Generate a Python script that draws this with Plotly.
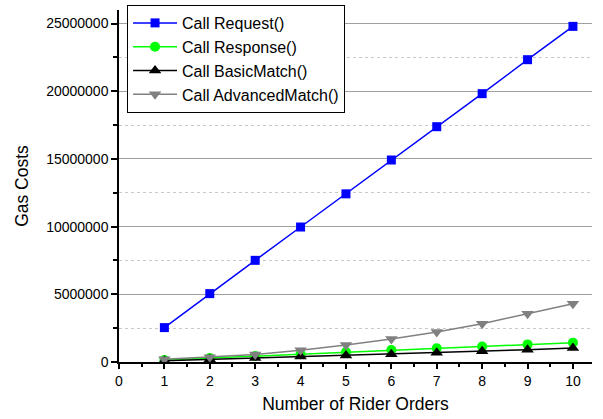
import plotly.graph_objects as go

orders = [1, 2, 3, 4, 5, 6, 7, 8, 9, 10]
request = [2540000, 5050000, 7510000, 9970000, 12420000, 14920000, 17380000, 19820000, 22330000, 24790000]
response = [150000, 290000, 440000, 580000, 730000, 880000, 1010000, 1150000, 1300000, 1430000]
basic = [100000, 200000, 300000, 400000, 480000, 580000, 680000, 800000, 910000, 1040000]
advanced = [200000, 360000, 550000, 860000, 1250000, 1700000, 2210000, 2830000, 3570000, 4310000]

FONT = "Liberation Sans"

fig = go.Figure()
series = [
    ("Call Request()", request, "#0000FF", "square", 9),
    ("Call Response()", response, "#00FF00", "circle", 10),
    ("Call BasicMatch()", basic, "#000000", "triangle-up", 11),
    ("Call AdvancedMatch()", advanced, "#808080", "triangle-down", 11),
]
for name, vals, col, sym, sz in series:
    fig.add_trace(go.Scatter(
        x=orders, y=vals, name=name, mode="lines+markers",
        line=dict(color=col, width=1.5),
        marker=dict(symbol=sym, size=sz, color=col),
    ))

fig.update_layout(
    width=603, height=419,
    margin=dict(l=119, r=11, t=5, b=57, autoexpand=False),
    paper_bgcolor="white", plot_bgcolor="white",
    font=dict(family=FONT, size=14, color="black"),
    showlegend=True,
    legend=dict(
        x=0.017, y=1.0, xanchor="left", yanchor="top",
        bgcolor="white", bordercolor="black", borderwidth=1,
        font=dict(family=FONT, size=16, color="black"),
        itemwidth=44, tracegroupgap=0,
    ),
    xaxis=dict(
        range=[0, 10.42], tick0=0, dtick=1, automargin=False,
        showline=True, linecolor="black", linewidth=1.5,
        ticks="outside", ticklen=5, tickwidth=1.5, tickcolor="black",
        showgrid=False, zeroline=False,
        tickfont=dict(family=FONT, size=14),
        title=dict(text="Number of Rider Orders", font=dict(family=FONT, size=17.5), standoff=10),
        minor=dict(dtick=0.5, tick0=0, ticks="outside", ticklen=3, tickwidth=1.5, tickcolor="black", showgrid=False),
    ),
    yaxis=dict(
        range=[0, 26000000], tick0=0, dtick=5000000, tickformat="d", automargin=False,
        domain=[0, 0.986],
        showline=True, linecolor="black", linewidth=1.5,
        ticks="outside", ticklen=6, tickwidth=1.5, tickcolor="black",
        showgrid=True, gridcolor="#A0A0A0", gridwidth=1,
        zeroline=False,
        tickfont=dict(family=FONT, size=14),
        title=dict(text="Gas Costs", font=dict(family=FONT, size=17.5), standoff=13),
        minor=dict(dtick=2500000, tick0=0, ticks="outside", ticklen=4, tickwidth=1.5, tickcolor="black",
                   showgrid=True, gridcolor="#C8C8C8", griddash="dot", gridwidth=1),
    ),
)

fig.write_html("out.html", config={"displayModeBar": False},
               post_script="document.body.style.margin='0';document.body.style.padding='0';")
